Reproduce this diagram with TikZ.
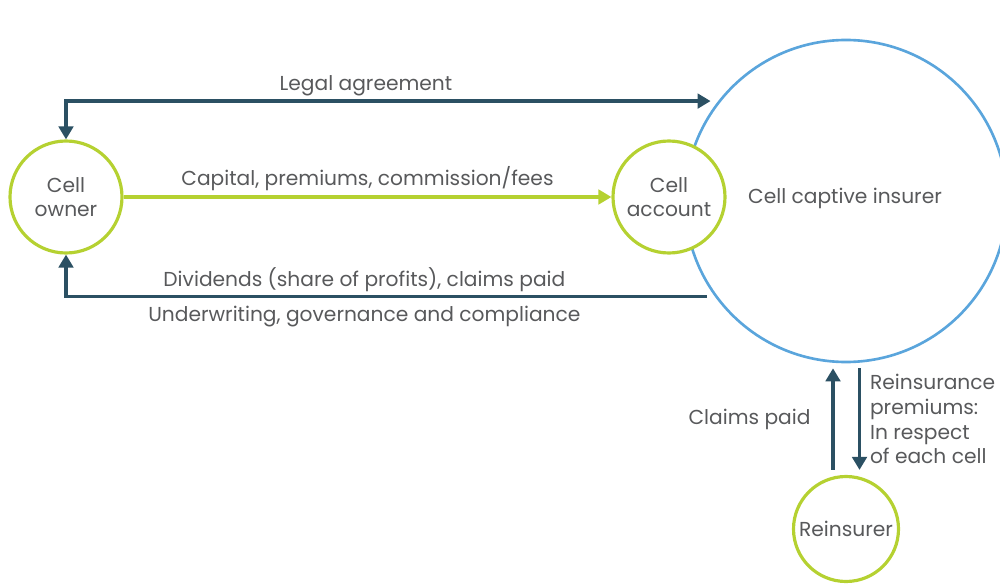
\documentclass[tikz,border=0pt]{standalone}
\usepackage{fontspec}
\setmainfont{Poppins}
\usetikzlibrary{arrows.meta,positioning}

\definecolor{cellgreen}{HTML}{B5D131}
\definecolor{flowdark}{HTML}{2B5063}
\definecolor{ringblue}{HTML}{5AA5DC}
\definecolor{labelgrey}{HTML}{58595B}

\tikzset{
  party/.style={circle,draw=cellgreen,fill=white,line width=1.8pt,text=labelgrey,
    align=center,font=\fontsize{11.5}{14}\selectfont,inner sep=0pt},
  flowlabel/.style={text=labelgrey,font=\fontsize{11.5}{14}\selectfont},
  flow/.style={draw=flowdark,line width=1.9pt},
  payflow/.style={draw=cellgreen,line width=1.9pt}
}

\begin{document}
\begin{tikzpicture}[x=0.2mm,y=-0.2mm,>={Triangle[length=2.6mm,width=2.9mm]}]
\useasboundingbox (0,0) rectangle (1000,584);

% parties
\node[party,draw=ringblue,line width=1.5pt,minimum size=64.4mm] (insurer) at (846,201) {};
\node[flowlabel] (insname) at (845,198) {Cell captive insurer};
\node[party,minimum size=22.4mm] (owner) at (66,197) {Cell\\owner};
\node[party,minimum size=22.4mm] (account) at (669,197) {Cell\\account};
\node[party,minimum size=21mm] (reins) at (846,529) {Reinsurer};

% flows
\draw[flow,<->,shorten <=1.5mm] (insurer.142) -| (owner.north)
  node[flowlabel,above=-0.4mm,pos=.27] {Legal agreement};
\draw[payflow,->,fill=cellgreen] (owner.east) -- (account.west)
  node[flowlabel,above=-0.3mm,midway] {Capital, premiums, commission/fees};
\draw[flow,->,shorten <=1.5mm] (insurer.216) -| (owner.south)
  node[flowlabel,above=-0.6mm,pos=.27] {Dividends (share of profits), claims paid}
  node[flowlabel,below=0.4mm,pos=.27] {Underwriting, governance and compliance};
\draw[flow,->,shorten <=1mm,shorten >=1mm] ([xshift=-2.6mm]reins.north) -- ([xshift=-2.6mm]insurer.south)
  node[flowlabel,left=3mm,midway] {Claims paid};
\draw[flow,->,shorten <=1mm,shorten >=1mm] ([xshift=2pt]insurer.south -| 856,0) -- ([xshift=2pt]reins.north -| 856,0)
  node[flowlabel,right=0.6mm,midway,align=left] {Reinsurance\\premiums:\\In respect\\of each cell};
\end{tikzpicture}
\end{document}
